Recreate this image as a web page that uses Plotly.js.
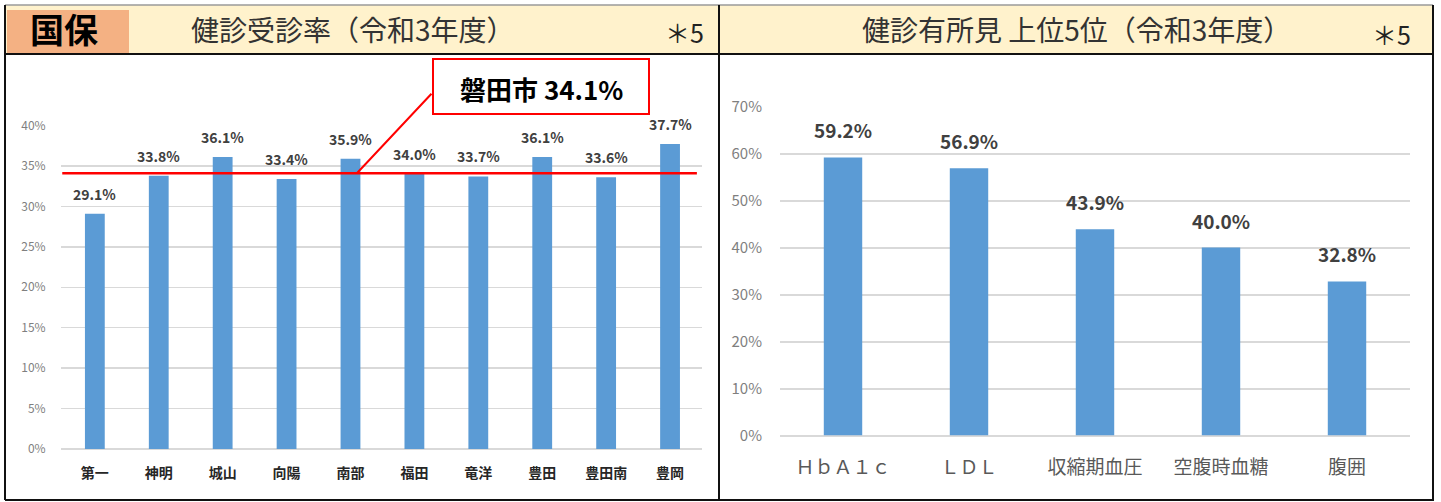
<!DOCTYPE html>
<html>
<head>
<meta charset="utf-8">
<script src="https://cdn.plot.ly/plotly-3.0.1.min.js"></script>
<style>
html,body{margin:0;padding:0;background:#fff;}
#chart{width:1441px;height:502px;}
</style>
</head>
<body>
<div id="chart"></div>
<script>
// ---- data ----
const leftCategories = ['第一','神明','城山','向陽','南部','福田','竜洋','豊田','豊田南','豊岡'];
const leftValues = [0.291,0.338,0.361,0.334,0.359,0.340,0.337,0.361,0.336,0.377];
const cityName = '磐田市';
const cityRate = 0.341;
const rightCategories = ['ＨｂＡ１ｃ','ＬＤＬ','収縮期血圧','空腹時血糖','腹囲'];
const rightValues = [0.592,0.569,0.439,0.400,0.328];
const badgeText = '国保';
const leftTitle = '健診受診率（令和3年度）';
const rightTitle = '健診有所見 上位5位（令和3年度）';
const noteText = '＊5';

// ---- layout helpers ----
const W = 1441, H = 502;
const FONT = 'Noto Sans CJK JP, Noto Sans, sans-serif';
const px = x => x / W;
const py = y => 1 - y / H;
const pct = v => (v * 100).toFixed(1) + '%';
const BAR = '#5B9BD5';

const traces = [
  {type:'bar', x:leftCategories, y:leftValues, xaxis:'x', yaxis:'y',
   marker:{color:BAR}, width:0.31, hoverinfo:'skip'},
  {type:'bar', x:rightCategories, y:rightValues, xaxis:'x2', yaxis:'y2',
   marker:{color:BAR}, width:0.305, hoverinfo:'skip'}
];

const annotations = [];
leftCategories.forEach((c,i) => annotations.push({
  x:c, y:leftValues[i], xref:'x', yref:'y', text:pct(leftValues[i]), showarrow:false,
  yanchor:'bottom', yshift:8, font:{family:FONT, size:14, color:'#404040', weight:'bold'}
}));
rightCategories.forEach((c,i) => annotations.push({
  x:c, y:rightValues[i], xref:'x2', yref:'y2', text:pct(rightValues[i]), showarrow:false,
  yanchor:'bottom', yshift:12, font:{family:FONT, size:19, color:'#404040', weight:'bold'}
}));
// header texts
annotations.push({x:px(64), y:py(29), xref:'paper', yref:'paper', text:badgeText, showarrow:false,
  xanchor:'center', yanchor:'middle', font:{family:FONT, size:34, color:'#000', weight:'bold'}});
annotations.push({x:px(353), y:py(29), xref:'paper', yref:'paper', text:leftTitle, showarrow:false,
  xanchor:'center', yanchor:'middle', font:{family:FONT, size:28, color:'#333'}});
annotations.push({x:px(684), y:py(32), xref:'paper', yref:'paper', text:noteText, showarrow:false,
  xanchor:'center', yanchor:'middle', font:{family:FONT, size:25, color:'#222'}});
annotations.push({x:px(1076), y:py(29), xref:'paper', yref:'paper', text:rightTitle, showarrow:false,
  xanchor:'center', yanchor:'middle', font:{family:FONT, size:28, color:'#333'}});
annotations.push({x:px(1391), y:py(34), xref:'paper', yref:'paper', text:noteText, showarrow:false,
  xanchor:'center', yanchor:'middle', font:{family:FONT, size:25, color:'#222'}});
// callout
annotations.push({x:px(541), y:py(88), xref:'paper', yref:'paper', text:cityName + ' ' + pct(cityRate),
  showarrow:false, xanchor:'center', yanchor:'middle',
  font:{family:FONT, size:26, color:'#000', weight:'bold'}});
annotations.push({x:4.1, y:cityRate, xref:'x', yref:'y', text:'', showarrow:true,
  arrowhead:0, arrowwidth:2, arrowcolor:'#FF0000', ax:76, ay:-81, standoff:0, startstandoff:0});

const shapes = [
  // header band
  {type:'rect', xref:'paper', yref:'paper', x0:px(6), x1:px(1433), y0:py(54), y1:py(5),
   fillcolor:'#FFF2CC', line:{width:0}, layer:'below'},
  {type:'rect', xref:'paper', yref:'paper', x0:px(7), x1:px(129), y0:py(53), y1:py(10),
   fillcolor:'#F4B183', line:{width:0}, layer:'below'},
  // frame lines
  {type:'line', xref:'paper', yref:'paper', x0:px(5), x1:px(1433), y0:py(5), y1:py(5), line:{color:'#9a9a9a', width:1.5}},
  {type:'line', xref:'paper', yref:'paper', x0:px(5), x1:px(1433), y0:py(54), y1:py(54), line:{color:'#111', width:2}},
  {type:'line', xref:'paper', yref:'paper', x0:px(5), x1:px(1434), y0:py(500), y1:py(500), line:{color:'#111', width:2}},
  {type:'line', xref:'paper', yref:'paper', x0:px(5), x1:px(5), y0:py(5), y1:py(500), line:{color:'#111', width:2}},
  {type:'line', xref:'paper', yref:'paper', x0:px(719), x1:px(719), y0:py(5), y1:py(500), line:{color:'#111', width:2}},
  {type:'line', xref:'paper', yref:'paper', x0:px(1433), x1:px(1433), y0:py(5), y1:py(500), line:{color:'#111', width:2}},
  // city average line
  {type:'line', xref:'x', yref:'y', x0:-0.51, x1:9.42, y0:cityRate, y1:cityRate, line:{color:'#FF0000', width:2.5}},
  // callout box
  {type:'rect', xref:'paper', yref:'paper', x0:px(433), x1:px(649), y0:py(114), y1:py(59),
   fillcolor:'#FFFFFF', line:{color:'#FF0000', width:2}}
];

const layout = {
  width:W, height:H, margin:{l:0,r:0,t:0,b:0},
  paper_bgcolor:'#fff', plot_bgcolor:'rgba(0,0,0,0)', showlegend:false,
  font:{family:FONT},
  xaxis:{domain:[px(61), px(702)], type:'category', showgrid:false, zeroline:false, showline:false,
    ticks:'outside', ticklen:11, tickcolor:'rgba(0,0,0,0)',
    tickfont:{family:FONT, size:14, color:'#262626', weight:'bold'}, fixedrange:true},
  yaxis:{domain:[py(449), py(125.5)], range:[0,0.4], dtick:0.05, tickformat:'.0%',
    showgrid:true, gridcolor:'#D9D9D9', gridwidth:1.5, zeroline:true, zerolinecolor:'#D9D9D9', zerolinewidth:1.5,
    ticks:'outside', ticklen:12, tickcolor:'rgba(0,0,0,0)',
    tickfont:{family:FONT, size:12, color:'#7F7F7F'}, fixedrange:true},
  xaxis2:{domain:[px(780), px(1410)], type:'category', anchor:'y2', showgrid:false, zeroline:false, showline:false,
    ticks:'outside', ticklen:15, tickcolor:'rgba(0,0,0,0)',
    tickfont:{family:FONT, size:19, color:'#595959'}, fixedrange:true},
  yaxis2:{domain:[py(435.5), py(106.7)], range:[0,0.7], dtick:0.1, tickformat:'.0%', anchor:'x2',
    showgrid:true, gridcolor:'#D9D9D9', gridwidth:2, zeroline:true, zerolinecolor:'#D9D9D9', zerolinewidth:2,
    ticks:'outside', ticklen:14, tickcolor:'rgba(0,0,0,0)',
    tickfont:{family:FONT, size:15, color:'#7F7F7F'}, fixedrange:true},
  shapes:shapes,
  annotations:annotations
};

Plotly.newPlot('chart', traces, layout, {displayModeBar:false, staticPlot:true});
</script>
</body>
</html>
